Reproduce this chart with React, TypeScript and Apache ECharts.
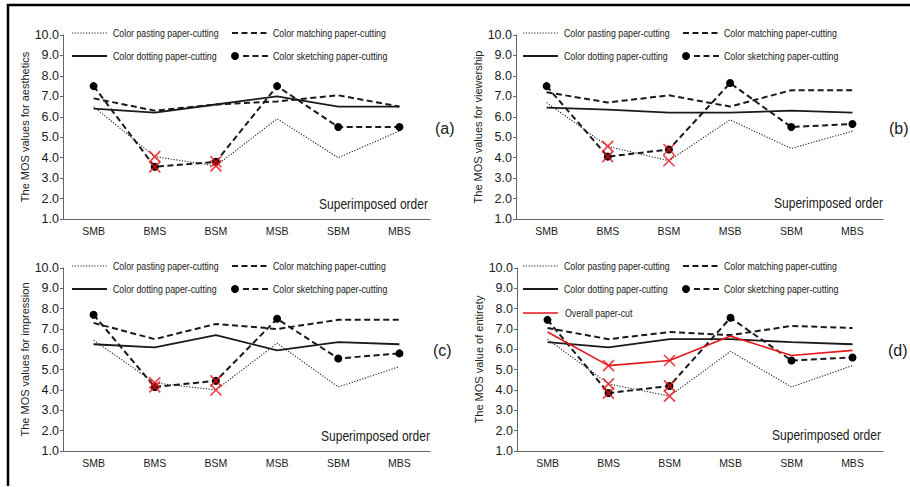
import React, { useEffect, useRef } from "react";
import * as echarts from "echarts";

const categories = ["SMB", "BMS", "BSM", "MSB", "SBM", "MBS"];
const markedCategories = ["BMS", "BSM"];
const Y_MIN = 1;
const Y_MAX = 10;
const Y_STEP = 1;

// (a) aesthetics
const pastingA = [6.5, 4.05, 3.6, 5.9, 4.0, 5.3];
const matchingA = [6.9, 6.3, 6.6, 6.75, 7.05, 6.5];
const dottingA = [6.4, 6.2, 6.6, 7.0, 6.5, 6.5];
const sketchingA = [7.5, 3.55, 3.8, 7.5, 5.5, 5.5];
// (b) viewership
const pastingB = [6.7, 4.55, 3.85, 5.85, 4.45, 5.3];
const matchingB = [7.2, 6.7, 7.05, 6.5, 7.3, 7.3];
const dottingB = [6.45, 6.35, 6.2, 6.2, 6.3, 6.2];
const sketchingB = [7.5, 4.05, 4.4, 7.65, 5.5, 5.65];
// (c) impression
const pastingC = [6.45, 4.35, 4.0, 6.3, 4.15, 5.15];
const matchingC = [7.3, 6.5, 7.25, 7.0, 7.45, 7.45];
const dottingC = [6.25, 6.1, 6.7, 5.95, 6.35, 6.25];
const sketchingC = [7.7, 4.15, 4.45, 7.5, 5.55, 5.8];
// (d) entirety
const pastingD = [6.5, 4.3, 3.7, 5.9, 4.15, 5.2];
const matchingD = [7.05, 6.5, 6.85, 6.7, 7.15, 7.05];
const dottingD = [6.35, 6.1, 6.5, 6.5, 6.35, 6.25];
const sketchingD = [7.45, 3.85, 4.2, 7.55, 5.45, 5.6];
const overallD = [6.85, 5.2, 5.45, 6.65, 5.7, 5.95];

const legendNames = [
  "Color pasting paper-cutting",
  "Color matching paper-cutting",
  "Color dotting paper-cutting",
  "Color sketching paper-cutting",
  "Overall paper-cut",
];
const panelLabels = ["(a)", "(b)", "(c)", "(d)"];
const yNames = [
  "The MOS values for aesthetics",
  "The MOS values for viewership",
  "The MOS values for impression",
  "The MOS value of entirety",
];
const xName = "Superimposed order";

const SANS = "'Liberation Sans', Arial, sans-serif";
const RED = "#e8141c";
const INK = "#1a1a1a";

const panels = [
  {
    grid: { left: 63, top: 35, width: 367, height: 184 },
    legendX: 72, legendY: 33, label: { x: 435, y: 128 }, xname: { x: 428, y: 204 },
    pasting: pastingA, matching: matchingA, dotting: dottingA, sketching: sketchingA, overall: null as number[] | null,
  },
  {
    grid: { left: 516, top: 35, width: 367, height: 184 },
    legendX: 523, legendY: 33, label: { x: 889, y: 128 }, xname: { x: 883, y: 203 },
    pasting: pastingB, matching: matchingB, dotting: dottingB, sketching: sketchingB, overall: null as number[] | null,
  },
  {
    grid: { left: 63, top: 268, width: 367, height: 183 },
    legendX: 72, legendY: 266, label: { x: 433, y: 350 }, xname: { x: 430, y: 436 },
    pasting: pastingC, matching: matchingC, dotting: dottingC, sketching: sketchingC, overall: null as number[] | null,
  },
  {
    grid: { left: 517, top: 268, width: 366, height: 183 },
    legendX: 523, legendY: 266, label: { x: 888, y: 350 }, xname: { x: 881, y: 435 },
    pasting: pastingD, matching: matchingD, dotting: dottingD, sketching: sketchingD, overall: overallD as number[] | null,
  },
];

const X_SYMBOL = "path://M0,0L10,10M10,0L0,10";
const DOT: number[] = [1.2, 1.6];
const DASH: number[] = [6, 3.5];

function buildOption() {
  const grid: any[] = [];
  const xAxis: any[] = [];
  const yAxis: any[] = [];
  const series: any[] = [];
  const graphic: any[] = [];

  // outer frame (top and left rules)
  graphic.push({ type: "line", shape: { x1: 7, y1: 5, x2: 910, y2: 5 }, style: { stroke: "#000", lineWidth: 2.5 } });
  graphic.push({ type: "line", shape: { x1: 8, y1: 4, x2: 8, y2: 486 }, style: { stroke: "#000", lineWidth: 2.5 } });

  panels.forEach((p, i) => {
    grid.push({ ...p.grid, containLabel: false });
    xAxis.push({
      type: "category",
      gridIndex: i,
      data: categories,
      boundaryGap: true,
      axisLine: { lineStyle: { color: "#666", width: 1 } },
      axisTick: { inside: true, length: 4, lineStyle: { color: "#666" } },
      axisLabel: { fontFamily: SANS, fontSize: 10.5, color: INK, margin: 6 },
      splitLine: { show: false },
    });
    yAxis.push({
      type: "value",
      gridIndex: i,
      min: Y_MIN,
      max: Y_MAX,
      interval: Y_STEP,
      axisLine: { show: true, lineStyle: { color: "#666", width: 1 } },
      axisTick: { show: true, length: 3, lineStyle: { color: "#666" } },
      axisLabel: { fontFamily: SANS, fontSize: 12.5, color: INK, margin: 4, formatter: (v: number) => v.toFixed(1) },
      splitLine: { show: false },
      name: yNames[i],
      nameLocation: "middle",
      nameGap: 26,
      nameTextStyle: { fontFamily: SANS, fontSize: 11, color: "#222" },
    });

    const common = { xAxisIndex: i, yAxisIndex: i, type: "line", animation: false, silent: true };
    series.push({
      ...common, name: legendNames[0], data: p.pasting, symbol: "none",
      lineStyle: { color: "#222", width: 1.1, type: DOT },
    });
    series.push({
      ...common, name: legendNames[1], data: p.matching, symbol: "none",
      lineStyle: { color: INK, width: 2, type: DASH },
    });
    series.push({
      ...common, name: legendNames[2], data: p.dotting, symbol: "none",
      lineStyle: { color: INK, width: 1.8, type: "solid" },
    });
    series.push({
      ...common, name: legendNames[3], data: p.sketching, symbol: "circle", symbolSize: 8, showSymbol: true,
      itemStyle: { color: "#000", borderWidth: 0 },
      lineStyle: { color: INK, width: 2, type: DASH },
    });
    if (p.overall) {
      series.push({
        ...common, name: legendNames[4], data: p.overall, symbol: "none",
        lineStyle: { color: RED, width: 1.6, type: "solid" },
      });
    }
    // red crosses on the marked categories
    const markSources: number[][] = [p.pasting, p.sketching];
    if (p.overall) markSources.push(p.overall);
    const markData: any[] = [];
    markSources.forEach((arr) => {
      markedCategories.forEach((c) => {
        const idx = categories.indexOf(c);
        markData.push([c, arr[idx]]);
      });
    });
    series.push({
      type: "scatter", xAxisIndex: i, yAxisIndex: i, silent: true, z: 10,
      symbol: X_SYMBOL, symbolSize: 11, data: markData,
      itemStyle: { color: "rgba(0,0,0,0)", borderColor: RED, borderWidth: 1.7 },
    });

    // legend drawn as graphics
    const x0 = p.legendX;
    const y1 = p.legendY;
    const y2 = p.legendY + 23;
    const txt = (x: number, y: number, t: string) => ({
      type: "text", x, y, silent: true, scaleX: 0.8,
      style: { text: t, fontFamily: SANS, fontSize: 11, fill: INK, verticalAlign: "middle", align: "left" },
    });
    graphic.push({ type: "line", silent: true, shape: { x1: x0, y1, x2: x0 + 35, y2: y1 }, style: { stroke: "#222", lineWidth: 1.1, lineDash: DOT } });
    graphic.push(txt(x0 + 41, y1, legendNames[0]));
    graphic.push({ type: "line", silent: true, shape: { x1: x0 + 160, y1, x2: x0 + 196, y2: y1 }, style: { stroke: INK, lineWidth: 2, lineDash: DASH } });
    graphic.push(txt(x0 + 201, y1, legendNames[1]));
    graphic.push({ type: "line", silent: true, shape: { x1: x0, y1: y2, x2: x0 + 35, y2 }, style: { stroke: INK, lineWidth: 1.8 } });
    graphic.push(txt(x0 + 41, y2, legendNames[2]));
    graphic.push({ type: "circle", silent: true, shape: { cx: x0 + 163, cy: y2, r: 4 }, style: { fill: "#000" } });
    graphic.push({ type: "line", silent: true, shape: { x1: x0 + 171, y1: y2, x2: x0 + 196, y2 }, style: { stroke: INK, lineWidth: 2, lineDash: DASH } });
    graphic.push(txt(x0 + 201, y2, legendNames[3]));
    if (p.overall) {
      const y3 = p.legendY + 47;
      graphic.push({ type: "line", silent: true, shape: { x1: x0, y1: y3, x2: x0 + 35, y2: y3 }, style: { stroke: RED, lineWidth: 1.6 } });
      graphic.push(txt(x0 + 42, y3, legendNames[4]));
    }

    // panel letter
    graphic.push({
      type: "text", x: p.label.x, y: p.label.y, silent: true,
      style: { text: panelLabels[i], fontFamily: SANS, fontSize: 16, fill: INK, verticalAlign: "middle", align: "left" },
    });
    // x axis name
    graphic.push({
      type: "text", x: p.xname.x, y: p.xname.y, silent: true, scaleX: 0.86,
      style: { text: xName, fontFamily: SANS, fontSize: 14, fill: INK, verticalAlign: "middle", align: "right" },
    });
  });

  return {
    animation: false,
    backgroundColor: "#ffffff",
    grid,
    xAxis,
    yAxis,
    series,
    graphic,
  };
}

export default function App() {
  const ref = useRef<HTMLDivElement>(null);
  useEffect(() => {
    if (!ref.current) return;
    const chart = echarts.init(ref.current, null, { renderer: "svg" });
    chart.setOption(buildOption() as any);
    return () => chart.dispose();
  }, []);
  return (
    <div
      ref={ref}
      style={{ position: "absolute", left: 0, top: 0, width: 910, height: 487, background: "#fff" }}
    />
  );
}
